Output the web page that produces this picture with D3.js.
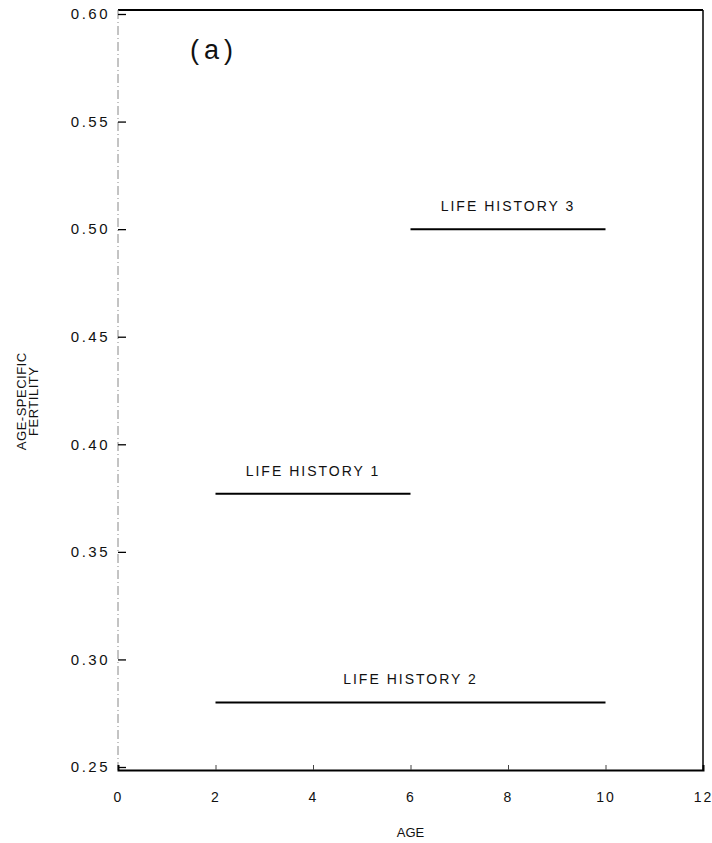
<!DOCTYPE html>
<html>
<head>
<meta charset="utf-8">
<script src="https://cdn.jsdelivr.net/npm/d3@7"></script>
<style>
  body { margin: 0; background: #fff; }
  svg text { font-family: "Liberation Sans", Arial, sans-serif; fill: #111; }
</style>
</head>
<body>
<div id="chart"></div>
<script>

// data
const histories = ['LIFE HISTORY 1', 'LIFE HISTORY 2', 'LIFE HISTORY 3'];
const startAge = [2, 2, 6];
const endAge = [6, 10, 10];
const fertility = [0.377, 0.28, 0.50];

const xTicks = [0, 2, 4, 6, 8, 10, 12];
const yTicks = [0.25, 0.30, 0.35, 0.40, 0.45, 0.50, 0.55, 0.60];

let margin = {top: 14, right: 8, bottom: 76, left: 118};
let width = 712 - margin.left - margin.right,
    height = 843 - margin.top - margin.bottom;

const svg = d3.select('#chart')
    .append('svg')
    .attr('width', 712)
    .attr('height', 843)
    .append('g')
    .attr('transform', `translate(${margin.left},${margin.top})`);

var x = d3.scaleLinear()
    .domain([0, 12])
    .range([0, 585]);

var y = d3.scaleLinear()
    .domain([0.25, 0.60])
    .range([height, 0]);

// frame: top and right
svg.append('line')
    .attr('x1', 0).attr('x2', x(12))
    .attr('y1', -4).attr('y2', -4)
    .attr('stroke', '#000').attr('stroke-width', 2);
svg.append('line')
    .attr('x1', x(12)).attr('x2', x(12))
    .attr('y1', -4).attr('y2', height + 3)
    .attr('stroke', '#000').attr('stroke-width', 1.5);

// Y axis
const yAxis = d3.axisLeft(y)
    .tickValues(yTicks)
    .tickFormat(d3.format('.2f'))
    .tickSize(-8)
    .tickPadding(8);

svg.append('g')
    .attr('class', 'y axis')
    .call(yAxis)
    .call(g => g.select('.domain')
        .attr('d', `M0,-4V${height + 3}`)
        .attr('stroke', '#888')
        .attr('stroke-dasharray', '9,3,1,3'))
    .call(g => g.selectAll('.tick line').attr('stroke', '#000').attr('stroke-width', 1.3))
    .selectAll('text')
    .style('font-size', '15px')
    .style('letter-spacing', '2.5px');

// X axis
const xAxis = d3.axisBottom(x)
    .tickValues(xTicks)
    .tickSize(-5)
    .tickPadding(22);

svg.append('g')
    .attr('class', 'x axis')
    .attr('transform', `translate(0,${height + 3})`)
    .call(xAxis)
    .call(g => g.select('.domain').attr('stroke', '#000').attr('stroke-width', 2))
    .call(g => g.selectAll('.tick line')
        .attr('stroke', '#444')
        .attr('stroke-width', 1)
        .filter(d => d === 0 || d === 12).remove())
    .selectAll('text')
    .style('font-size', '14px')
    .style('letter-spacing', '2px');

// segments
svg.selectAll('.seg')
    .data(histories)
    .enter().append('line')
    .attr('class', 'seg')
    .attr('x1', (d, i) => x(startAge[i]))
    .attr('x2', (d, i) => x(endAge[i]))
    .attr('y1', (d, i) => y(fertility[i]))
    .attr('y2', (d, i) => y(fertility[i]))
    .attr('stroke', '#000')
    .attr('stroke-width', 2);

// labels
svg.selectAll('.label')
    .data(histories)
    .enter().append('text')
    .attr('class', 'label')
    .attr('x', (d, i) => x((startAge[i] + endAge[i]) / 2))
    .attr('y', (d, i) => y(fertility[i]) - 18)
    .attr('text-anchor', 'middle')
    .style('font-size', '14px')
    .style('letter-spacing', '2px')
    .text(d => d);

// panel tag
svg.append('text')
    .attr('x', 72)
    .attr('y', 45)
    .style('font-size', '27px')
    .style('letter-spacing', '5px')
    .text('(a)');

// axis titles
svg.append('text')
    .attr('x', x(6))
    .attr('y', height + 70)
    .attr('text-anchor', 'middle')
    .style('font-size', '13px')
    .text('AGE');

const yTitle = svg.append('text')
    .attr('transform', `translate(-92,${y(0.42)}) rotate(-90)`)
    .attr('text-anchor', 'middle')
    .style('font-size', '13px')
    .style('letter-spacing', '0.5px');
yTitle.append('tspan').attr('x', 0).attr('dy', 0).text('AGE-SPECIFIC');
yTitle.append('tspan').attr('x', 0).attr('dy', 12).text('FERTILITY');

</script>
</body>
</html>
